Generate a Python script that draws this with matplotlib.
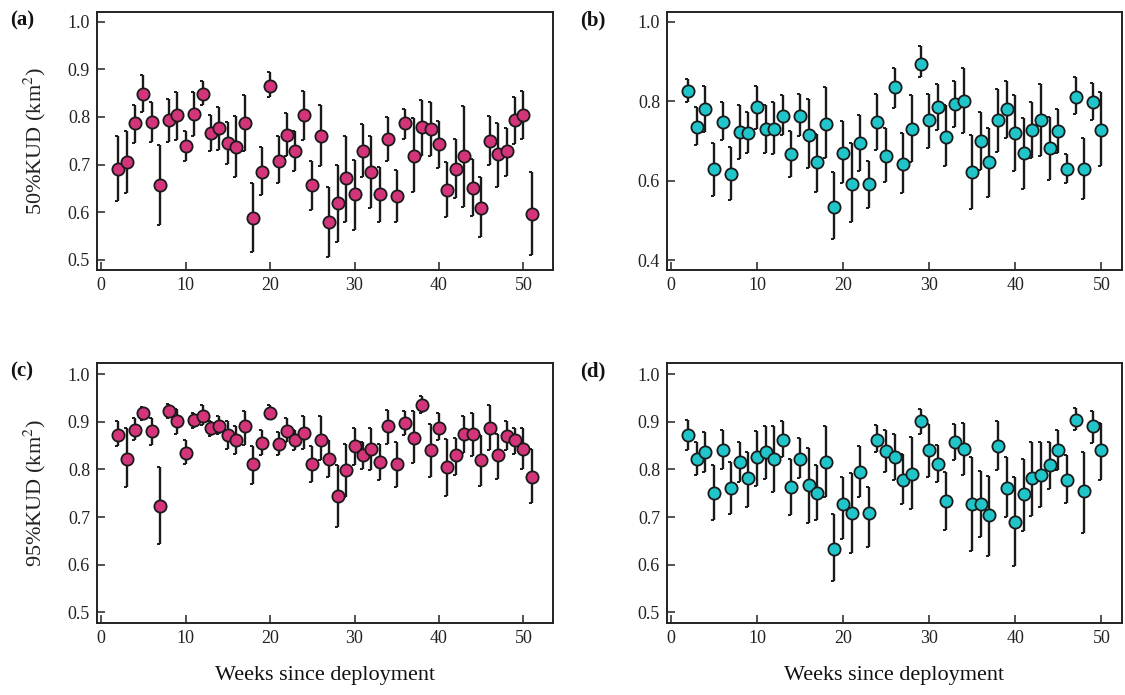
import matplotlib
matplotlib.use('Agg')
import matplotlib.pyplot as plt
import numpy as np

# weekly KUD overlap values (mean, upper and lower bar ends)
weeks_a = list(range(2, 52))
mean_a = [0.691, 0.705, 0.787, 0.849, 0.790, 0.657, 0.794, 0.803, 0.739, 0.807,
          0.849, 0.766, 0.776, 0.746, 0.736, 0.787, 0.589, 0.684, 0.865, 0.708,
          0.763, 0.729, 0.803, 0.657, 0.760, 0.579, 0.620, 0.671, 0.638, 0.729,
          0.685, 0.638, 0.753, 0.634, 0.787, 0.719, 0.778, 0.774, 0.743, 0.647,
          0.691, 0.719, 0.650, 0.610, 0.750, 0.722, 0.729, 0.794, 0.804, 0.597]
upper_a = [0.760, 0.771, 0.825, 0.887, 0.832, 0.741, 0.838, 0.852, 0.771, 0.852,
           0.876, 0.804, 0.821, 0.790, 0.801, 0.845, 0.661, 0.736, 0.894, 0.760,
           0.808, 0.771, 0.855, 0.708, 0.825, 0.652, 0.699, 0.760, 0.710, 0.785,
           0.760, 0.696, 0.799, 0.689, 0.817, 0.797, 0.836, 0.832, 0.792, 0.706,
           0.753, 0.822, 0.712, 0.675, 0.801, 0.787, 0.776, 0.841, 0.855, 0.685]
lower_a = [0.624, 0.640, 0.745, 0.811, 0.748, 0.573, 0.748, 0.752, 0.708, 0.761,
           0.824, 0.728, 0.731, 0.701, 0.675, 0.728, 0.517, 0.636, 0.841, 0.661,
           0.717, 0.687, 0.752, 0.605, 0.698, 0.507, 0.538, 0.580, 0.563, 0.675,
           0.610, 0.579, 0.708, 0.579, 0.753, 0.643, 0.719, 0.717, 0.692, 0.590,
           0.629, 0.612, 0.593, 0.549, 0.699, 0.654, 0.677, 0.743, 0.754, 0.510]

weeks_b = list(range(2, 51))
mean_b = [0.826, 0.736, 0.781, 0.629, 0.748, 0.617, 0.723, 0.719, 0.786, 0.731,
          0.731, 0.764, 0.666, 0.764, 0.715, 0.646, 0.744, 0.534, 0.670, 0.592,
          0.695, 0.592, 0.748, 0.662, 0.835, 0.642, 0.731, 0.895, 0.752, 0.785,
          0.711, 0.794, 0.802, 0.621, 0.699, 0.646, 0.752, 0.781, 0.720, 0.670,
          0.728, 0.752, 0.683, 0.724, 0.629, 0.810, 0.629, 0.798, 0.728]
upper_b = [0.856, 0.786, 0.839, 0.696, 0.799, 0.684, 0.790, 0.773, 0.839, 0.790,
           0.799, 0.815, 0.724, 0.819, 0.807, 0.717, 0.835, 0.622, 0.750, 0.696,
           0.765, 0.650, 0.819, 0.734, 0.885, 0.721, 0.815, 0.939, 0.819, 0.843,
           0.790, 0.851, 0.885, 0.716, 0.773, 0.734, 0.830, 0.851, 0.815, 0.757,
           0.798, 0.843, 0.761, 0.781, 0.666, 0.860, 0.708, 0.847, 0.823]
lower_b = [0.799, 0.690, 0.723, 0.562, 0.702, 0.551, 0.654, 0.669, 0.731, 0.670,
           0.666, 0.715, 0.610, 0.712, 0.631, 0.572, 0.656, 0.452, 0.593, 0.495,
           0.625, 0.530, 0.677, 0.597, 0.784, 0.568, 0.648, 0.860, 0.683, 0.727,
           0.637, 0.736, 0.719, 0.528, 0.628, 0.559, 0.673, 0.708, 0.625, 0.580,
           0.658, 0.663, 0.601, 0.670, 0.595, 0.767, 0.555, 0.752, 0.637]

weeks_c = list(range(2, 52))
mean_c = [0.873, 0.823, 0.884, 0.919, 0.881, 0.723, 0.922, 0.901, 0.835, 0.905,
          0.912, 0.887, 0.891, 0.873, 0.861, 0.891, 0.812, 0.856, 0.919, 0.853,
          0.881, 0.863, 0.877, 0.812, 0.863, 0.823, 0.744, 0.798, 0.850, 0.830,
          0.844, 0.815, 0.891, 0.812, 0.898, 0.867, 0.936, 0.840, 0.888, 0.805,
          0.830, 0.874, 0.874, 0.819, 0.888, 0.830, 0.870, 0.861, 0.844, 0.785]
upper_c = [0.901, 0.888, 0.908, 0.931, 0.908, 0.805, 0.937, 0.928, 0.861, 0.919,
           0.935, 0.903, 0.912, 0.901, 0.891, 0.924, 0.849, 0.884, 0.935, 0.879,
           0.908, 0.884, 0.912, 0.849, 0.912, 0.861, 0.809, 0.854, 0.888, 0.858,
           0.888, 0.854, 0.926, 0.858, 0.922, 0.922, 0.954, 0.896, 0.919, 0.865,
           0.867, 0.912, 0.919, 0.872, 0.936, 0.875, 0.901, 0.888, 0.888, 0.844]
lower_c = [0.849, 0.763, 0.861, 0.905, 0.851, 0.644, 0.909, 0.874, 0.811, 0.888,
           0.893, 0.870, 0.874, 0.844, 0.833, 0.852, 0.770, 0.830, 0.907, 0.830,
           0.858, 0.842, 0.844, 0.773, 0.819, 0.784, 0.679, 0.742, 0.809, 0.802,
           0.798, 0.777, 0.854, 0.764, 0.872, 0.813, 0.919, 0.784, 0.861, 0.745,
           0.788, 0.835, 0.828, 0.766, 0.840, 0.781, 0.840, 0.833, 0.802, 0.729]

weeks_d = list(range(2, 51))
mean_d = [0.873, 0.823, 0.837, 0.750, 0.842, 0.761, 0.816, 0.782, 0.826, 0.837,
          0.823, 0.863, 0.764, 0.823, 0.768, 0.750, 0.816, 0.633, 0.727, 0.709,
          0.795, 0.709, 0.863, 0.839, 0.826, 0.777, 0.791, 0.901, 0.840, 0.812,
          0.734, 0.858, 0.844, 0.727, 0.727, 0.704, 0.850, 0.762, 0.689, 0.748,
          0.782, 0.788, 0.809, 0.840, 0.778, 0.905, 0.754, 0.891, 0.840]
upper_d = [0.905, 0.858, 0.879, 0.809, 0.884, 0.816, 0.858, 0.837, 0.881, 0.891,
           0.891, 0.901, 0.823, 0.867, 0.846, 0.809, 0.891, 0.707, 0.784, 0.792,
           0.849, 0.763, 0.894, 0.882, 0.874, 0.832, 0.868, 0.928, 0.895, 0.851,
           0.795, 0.895, 0.898, 0.826, 0.796, 0.786, 0.902, 0.826, 0.784, 0.823,
           0.858, 0.858, 0.858, 0.882, 0.830, 0.929, 0.837, 0.922, 0.898]
lower_d = [0.840, 0.788, 0.795, 0.694, 0.802, 0.707, 0.773, 0.722, 0.766, 0.781,
           0.752, 0.826, 0.705, 0.782, 0.687, 0.693, 0.742, 0.565, 0.654, 0.624,
           0.742, 0.637, 0.837, 0.795, 0.777, 0.727, 0.717, 0.875, 0.784, 0.773,
           0.672, 0.819, 0.788, 0.628, 0.658, 0.619, 0.798, 0.700, 0.596, 0.671,
           0.702, 0.720, 0.759, 0.798, 0.729, 0.884, 0.666, 0.856, 0.778]

pink = '#d4357a'
cyan = '#1fc5c9'
serif = ['Liberation Serif', 'DejaVu Serif']

plt.rcParams['font.family'] = serif
plt.rcParams['mathtext.fontset'] = 'stix'

fig = plt.figure(figsize=(11.25, 6.95), dpi=100)
W, H = 1125.0, 695.0

# half cap pointing left, like the original "]" ends
half_cap = [(-1, 0), (0, 0)]


def draw_panel(box, weeks, mean, upper, lower, color, ylim, yticks, xlim, letter, ylabel=None, xlabel=None):
    left, top, right, bottom = box
    ax = fig.add_axes([left / W, 1 - bottom / H, (right - left) / W, (bottom - top) / H])
    mean = np.array(mean)
    err = [mean - np.array(lower), np.array(upper) - mean]
    _, caps, bars = ax.errorbar(weeks, mean, yerr=err, fmt='none', ecolor='#1a1a1a',
                                elinewidth=1.7, capsize=3, capthick=1.4, zorder=2)
    for cap in caps:
        cap.set_marker(half_cap)
        cap.set_markersize(4.5)
        cap.set_markeredgewidth(1.4)
    ax.plot(weeks, mean, 'o', ms=8.8, mfc=color, mec='#1a1a1a', mew=1.3, zorder=3)

    ax.set_xlim(xlim)
    ax.set_ylim(ylim)
    ax.set_xticks([0, 10, 20, 30, 40, 50])
    ax.set_yticks(yticks)
    ax.set_yticklabels(['%.1f' % t for t in yticks])
    ax.tick_params(direction='in', length=6, width=1.1, labelsize=13, colors='#222222', pad=5)
    for s in ax.spines.values():
        s.set_linewidth(1.4)
        s.set_color('#222222')

    if ylabel:
        ax.set_ylabel(ylabel, fontsize=16, color='#222222', labelpad=14)
    if xlabel:
        ax.set_xlabel(xlabel, fontsize=16, color='#111111', labelpad=14)
    fig.text((left - 87) / W, 1 - (top + 8) / H, letter, fontsize=15,
             fontweight='bold', ha='left', va='center', color='#111111')
    return ax


draw_panel((97, 12, 553, 270), weeks_a, mean_a, upper_a, lower_a, pink,
           (0.479, 1.02), [0.5, 0.6, 0.7, 0.8, 0.9, 1.0], (-0.5, 53.5), '(a)',
           ylabel='50%KUD (km$^2$)')
draw_panel((667, 12, 1122, 270), weeks_b, mean_b, upper_b, lower_b, cyan,
           (0.375, 1.025), [0.4, 0.6, 0.8, 1.0], (-0.45, 52.4), '(b)')
draw_panel((97, 363, 553, 623), weeks_c, mean_c, upper_c, lower_c, pink,
           (0.477, 1.024), [0.5, 0.6, 0.7, 0.8, 0.9, 1.0], (-0.5, 53.5), '(c)',
           ylabel='95%KUD (km$^2$)', xlabel='Weeks since deployment')
draw_panel((667, 363, 1122, 623), weeks_d, mean_d, upper_d, lower_d, cyan,
           (0.477, 1.024), [0.5, 0.6, 0.7, 0.8, 0.9, 1.0], (-0.45, 52.4), '(d)',
           xlabel='Weeks since deployment')

plt.savefig('out.png', dpi=100)
